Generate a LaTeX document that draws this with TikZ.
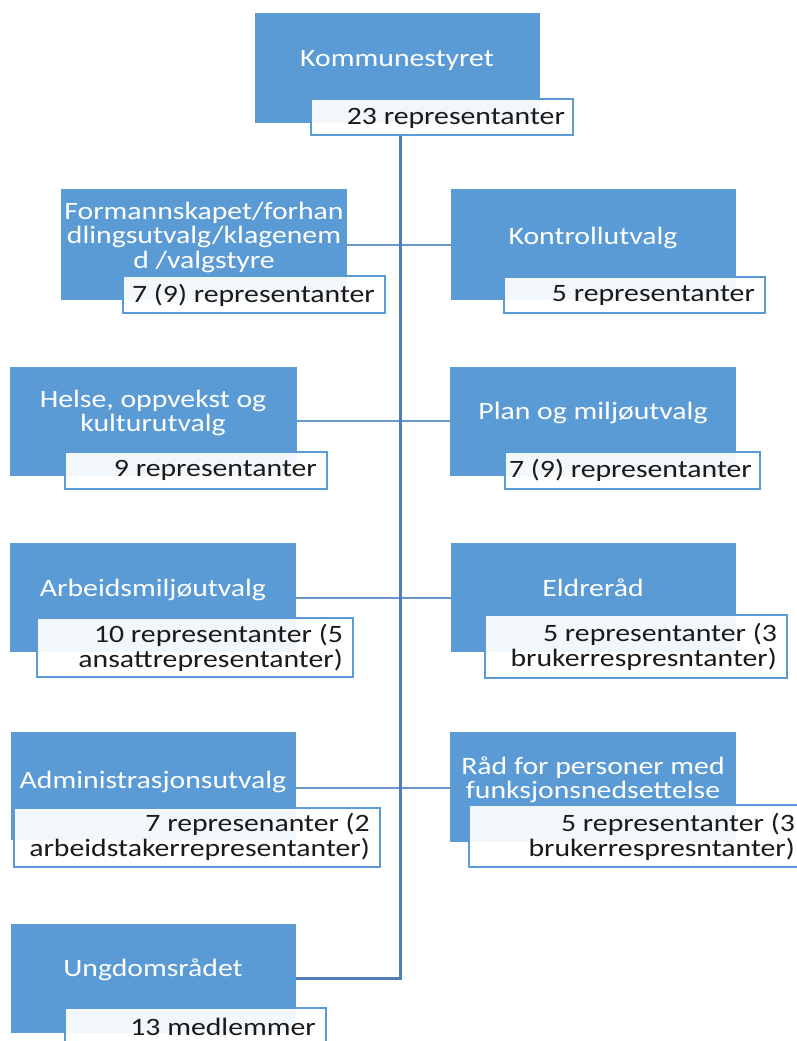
\documentclass[tikz,border=0pt]{standalone}
\usepackage{fontspec}
\setmainfont{Carlito}[FakeStretch=1.19]
\definecolor{boxblue}{HTML}{5B9BD5}
\definecolor{trunkblue}{HTML}{4F7FB5}
\definecolor{linkblue}{HTML}{6A98C8}
\definecolor{ink}{HTML}{1A1A1A}
\begin{document}
\begin{tikzpicture}[x=1pt,y=-1pt,
  unit/.style={fill=boxblue,draw=none},
  tag/.style={fill=white,fill opacity=0.92,draw=boxblue,line width=1.5pt},
  title/.style={text=white,align=center,inner sep=0pt,font=\fontsize{25}{24.5}\selectfont},
  tagtext/.style={text=ink,align=right,inner sep=0pt,anchor=east,font=\fontsize{25}{24.5}\selectfont},
  trunk/.style={draw=trunkblue,line width=3pt},
  link/.style={draw=linkblue,line width=2.2pt}]
\clip (0,0) rectangle (797,1041);
\fill[white] (0,0) rectangle (797,1041);

% connectors (drawn first)
\coordinate (t0) at (400,135);
\coordinate (t1) at (400,978);

% boxes
\path[unit] (255,13) rectangle (540,123) node[midway] (k) {};
\path[unit] (61,189) rectangle (347,300) node[midway] (f) {};
\path[unit] (451,189) rectangle (736,300) node[midway] (kc) {};
\path[unit] (10,367) rectangle (297,476) node[midway] (h) {};
\path[unit] (450,367) rectangle (736,476) node[midway] (p) {};
\path[unit] (10,543) rectangle (296,652) node[midway] (a) {};
\path[unit] (451,543) rectangle (736,652) node[midway] (e) {};
\path[unit] (11,732) rectangle (296,840) node[midway] (ad) {};
\path[unit] (450,732) rectangle (736,842) node[midway] (r) {};
\path[unit] (11,924) rectangle (296,1033) node[midway] (u) {};

\coordinate (fR) at (347,245);
\coordinate (kcL) at (451,245);
\coordinate (hR) at (297,421);
\coordinate (pL) at (450,421);
\coordinate (aR) at (296,598);
\coordinate (eL) at (451,598);
\coordinate (adR) at (296,788);
\coordinate (rL) at (450,788);
\coordinate (uR) at (296,978);

\draw[link] (fR) -- (kcL);
\draw[link] (hR) -- (pL);
\draw[link] (aR) -- (eL);
\draw[link] (adR) -- (rL);
\draw[trunk] (t0) -- (t1) -- (uR);

% titles
\node[title] (kT) at (397,60) {Kommunestyret};
\node[title] (fT) at (204,237) {Formannskapet/forhan\\dlingsutvalg/klagenem\\d /valgstyre};
\node[title] (kcT) at (593,238) {Kontrollutvalg};
\node[title] (hT) at (153,413) {Helse, oppvekst og\\kulturutvalg};
\node[title] (pT) at (593,413) {Plan og miljøutvalg};
\node[title] (aT) at (153,590) {Arbeidsmiljøutvalg};
\node[title] (eT) at (593,588) {Eldreråd};
\node[title] (adT) at (153,782) {Administrasjonsutvalg};
\node[title] (rT) at (593,780) {Råd for personer med\\funksjonsnedsettelse};
\node[title] (uT) at (153,970) {Ungdomsrådet};

% tags
\path[tag] (311,99) rectangle (573,135) node[midway] (kL) {};
\path[tag] (123,276) rectangle (385,313) node[midway] (fL) {};
\path[tag] (504,277) rectangle (765,313) node[midway] (kcLb) {};
\path[tag] (65,452) rectangle (327,489) node[midway] (hL) {};
\path[tag] (505,452) rectangle (760,489) node[midway] (pLb) {};
\path[tag] (37,618) rectangle (353,677) node[midway] (aL) {};
\path[tag] (485,615) rectangle (787,678) node[midway] (eLb) {};
\path[tag] (14,808) rectangle (380,867) node[midway] (adL) {};
\path[tag] (469,805) rectangle (812,867) node[midway] (rLb) {};
\path[tag] (65,1008) rectangle (326,1052) node[midway] (uL) {};

\node[tagtext] (kX) at (565,118) {23 representanter};
\node[tagtext] (fX) at (375,295) {7 (9) representanter};
\node[tagtext] (kcX) at (755,295) {5 representanter};
\node[tagtext] (hX) at (317,470) {9 representanter};
\node[tagtext] (pX) at (752,470) {7 (9) representanter};
\node[tagtext] (aX) at (343,648) {10 representanter (5\\ansattrepresentanter)};
\node[tagtext] (eX) at (777,647) {5 representanter (3\\brukerrespresntanter)};
\node[tagtext] (adX) at (370,837) {7 represenanter (2\\arbeidstakerrepresentanter)};
\node[tagtext] (rX) at (795,837) {5 representanter (3\\brukerrespresntanter)};
\node[tagtext] (uX) at (316,1027) {13 medlemmer};
\end{tikzpicture}
\end{document}
